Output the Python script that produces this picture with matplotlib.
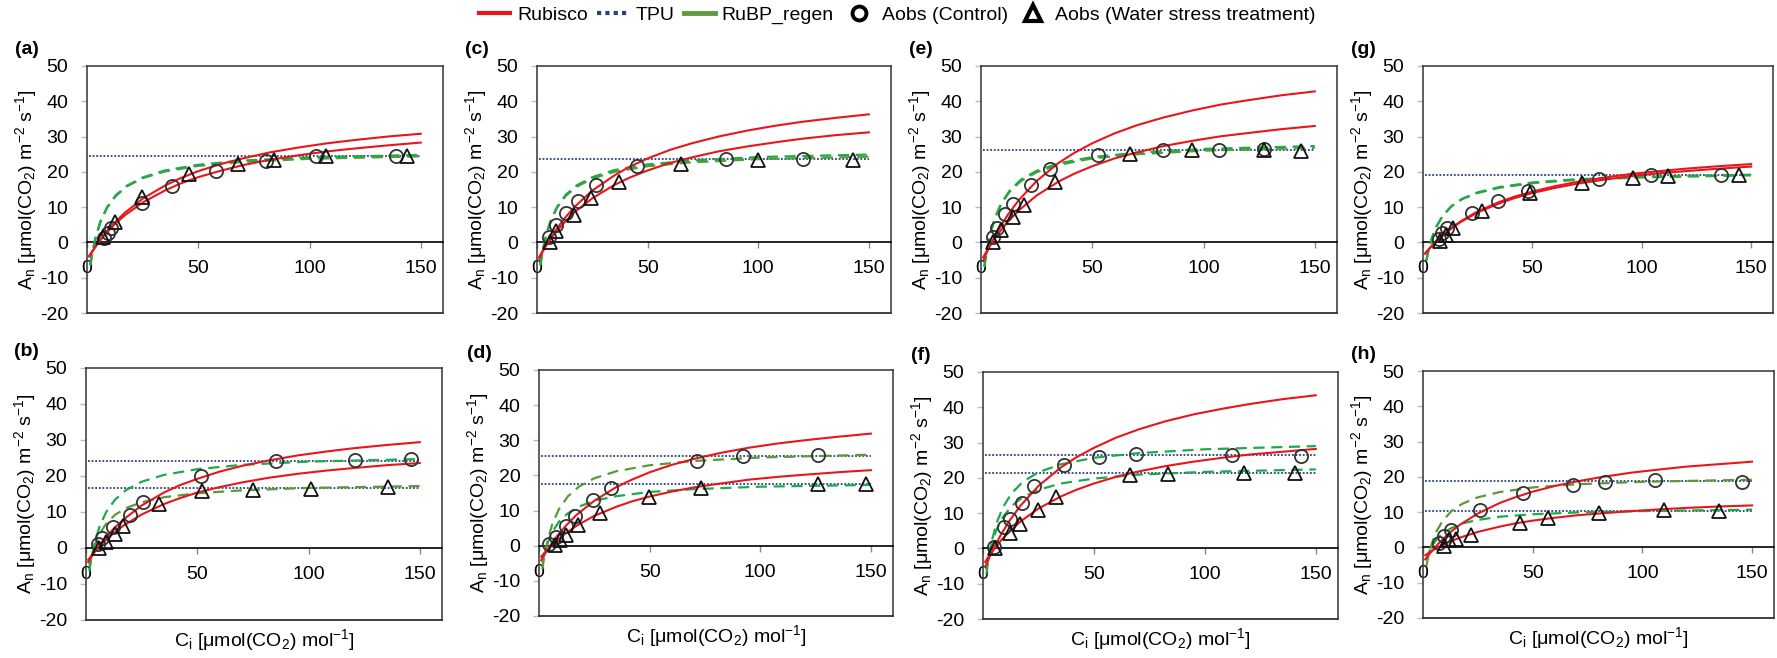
import matplotlib
matplotlib.use('Agg')
import matplotlib.pyplot as plt
from matplotlib.lines import Line2D

plt.rcParams['font.family'] = ['Liberation Sans', 'DejaVu Sans']
plt.rcParams['mathtext.fontset'] = 'custom'
plt.rcParams['mathtext.rm'] = 'Liberation Sans'
plt.rcParams['mathtext.it'] = 'Liberation Sans:italic'
plt.rcParams['axes.unicode_minus'] = False

# ---------------- data ----------------
X_MIN, X_MAX = 0, 160
Y_MIN, Y_MAX = -20, 50
X_TICKS = [0, 50, 100, 150]
Y_TICKS = [-20, -10, 0, 10, 20, 30, 40, 50]
TPU_CI = [1, 150]

RUB_CI = [1, 2, 3, 5, 8, 12, 17, 25, 35, 42, 50, 60, 70, 82, 95, 108, 120, 135, 150]
RUBP_CI = [1.5, 2.5, 4, 6, 9, 13, 18, 25, 35, 50, 70, 100, 150]

# panel (a)
a_ctrl_ci = [7.8, 9.3, 11, 24.8, 38, 57.8, 80.5, 103, 139]
a_ctrl_an = [1.2, 2.8, 4.0, 11.2, 16.1, 20.2, 23.0, 24.6, 24.6]
a_ws_ci = [7, 12.8, 24.8, 45.8, 68, 84, 107.5, 144]
a_ws_an = [1.6, 5.9, 12.8, 19.3, 22.3, 23.4, 24.6, 24.4]
a_rub1 = [-4.0, -3.0, -2.0, -0.1, 2.4, 5.4, 8.4, 12.4, 16.1, 18.2, 20.2, 22.2, 23.8, 25.5, 26.9, 28.1, 29.0, 30.0, 30.8]
a_rub2 = [-3.8, -2.8, -1.9, -0.2, 2.2, 4.9, 7.7, 11.3, 14.7, 16.7, 18.5, 20.3, 21.9, 23.4, 24.7, 25.8, 26.6, 27.5, 28.3]
a_rubp1 = [-6.5, -2.6, 1.7, 5.9, 10.0, 13.4, 16.1, 18.4, 20.4, 22.0, 23.2, 24.1, 24.8]
a_rubp2 = [-6.4, -2.6, 1.7, 5.75, 9.8, 13.2, 15.9, 18.2, 20.1, 21.7, 22.8, 23.7, 24.4]
a_tpu = [24.4]

# panel (b)
b_ctrl_ci = [5.6, 7, 12.3, 19.6, 25.4, 51.5, 85.5, 120.7, 146]
b_ctrl_an = [1.2, 2.8, 5.8, 9.3, 12.7, 20.1, 24.1, 24.4, 24.6]
b_ws_ci = [6, 9, 13.1, 16.5, 32.8, 52, 75.2, 101, 135.7]
b_ws_an = [0, 1.6, 4.0, 6.0, 12.3, 15.7, 16.2, 16.4, 16.9]
b_rub1 = [-3.9, -2.9, -1.9, -0.1, 2.3, 5.1, 8.0, 11.8, 15.4, 17.4, 19.2, 21.2, 22.8, 24.3, 25.7, 26.8, 27.7, 28.6, 29.4]
b_rub2 = [-3.3, -2.5, -1.7, -0.3, 1.7, 3.9, 6.3, 9.3, 12.2, 13.8, 15.4, 16.9, 18.2, 19.5, 20.6, 21.5, 22.2, 23.0, 23.6]
b_rubp1 = [-6.5, -2.6, 1.7, 5.8, 9.9, 13.4, 16.1, 18.4, 20.3, 21.9, 23.1, 24.0, 24.7]
b_rubp2 = [-4.9, -2.1, 0.9, 3.8, 6.7, 9.2, 11.1, 12.7, 14.1, 15.2, 16.0, 16.7, 17.2]
b_tpu = [24.3, 16.8]

# panel (c)
c_ctrl_ci = [5.5, 8.6, 13.1, 18.4, 26.7, 45.3, 85.3, 120]
c_ctrl_an = [1.5, 5.0, 8.3, 11.8, 16.2, 21.8, 23.6, 23.7]
c_ws_ci = [6, 8.6, 16.6, 24.4, 37.1, 65.2, 99.7, 143]
c_ws_an = [0, 3.1, 7.8, 12.5, 17.0, 22.3, 23.4, 23.4]
c_rub1 = [-4.6, -3.3, -2.1, 0.1, 3.0, 6.5, 10.1, 14.7, 19.0, 21.5, 23.8, 26.2, 28.1, 30.0, 31.7, 33.1, 34.2, 35.3, 36.3]
c_rub2 = [-4.1, -3.0, -2.0, -0.1, 2.5, 5.4, 8.6, 12.5, 16.3, 18.4, 20.4, 22.5, 24.1, 25.8, 27.2, 28.4, 29.4, 30.4, 31.2]
c_rubp1 = [-6.5, -2.6, 1.8, 5.9, 10.0, 13.5, 16.2, 18.5, 20.5, 22.1, 23.2, 24.2, 24.9]
c_rubp2 = [-6.4, -2.6, 1.7, 5.7, 9.8, 13.2, 15.8, 18.1, 20.0, 21.6, 22.7, 23.6, 24.3]
c_tpu = [23.6]

# panel (d)
d_ctrl_ci = [4.5, 7.9, 12.1, 16.2, 24.3, 32.5, 71.3, 92, 126]
d_ctrl_an = [0.6, 2.6, 5.7, 8.5, 13.0, 16.3, 24.2, 25.5, 25.9]
d_ws_ci = [7.1, 9.7, 12.4, 17.7, 27.6, 49.6, 73, 126, 147.7]
d_ws_an = [0.2, 1.6, 3.0, 5.9, 9.2, 14.0, 16.3, 17.7, 17.7]
d_rub1 = [-4.1, -3.0, -2.0, 0.0, 2.6, 5.6, 8.8, 12.8, 16.7, 18.8, 20.9, 23.0, 24.7, 26.4, 27.9, 29.1, 30.0, 31.0, 31.9]
d_rub2 = [-3.1, -2.4, -1.7, -0.3, 1.4, 3.5, 5.7, 8.5, 11.1, 12.6, 14.0, 15.4, 16.6, 17.7, 18.8, 19.6, 20.2, 20.9, 21.5]
d_rubp1 = [-6.7, -2.7, 1.9, 6.1, 10.4, 14.0, 16.8, 19.2, 21.2, 22.9, 24.1, 25.1, 25.9]
d_rubp2 = [-4.9, -2.1, 0.9, 3.9, 6.8, 9.2, 11.1, 12.8, 14.1, 15.3, 16.1, 16.8, 17.3]
d_tpu = [25.6, 17.6]

# panel (e)
e_ctrl_ci = [5.2, 7.3, 10.7, 14.5, 22.4, 31, 52.5, 81.6, 107, 127]
e_ctrl_an = [1.6, 4.0, 8.0, 11.0, 16.2, 20.7, 24.7, 26.2, 26.3, 26.6]
e_ws_ci = [5.5, 8.8, 14.5, 19.3, 33.4, 67, 95, 127, 144]
e_ws_an = [0.2, 3.4, 7.2, 10.6, 17.0, 25.0, 26.3, 26.3, 26.0]
e_rub1 = [-5.2, -3.7, -2.3, 0.3, 3.7, 7.8, 12.0, 17.4, 22.6, 25.4, 28.1, 30.9, 33.2, 35.4, 37.4, 39.1, 40.3, 41.7, 42.8]
e_rub2 = [-4.2, -3.1, -2.0, 0.0, 2.7, 5.8, 9.1, 13.3, 17.3, 19.5, 21.6, 23.8, 25.5, 27.3, 28.8, 30.1, 31.0, 32.1, 33.0]
e_rubp1 = [-7.0, -2.8, 2.0, 6.5, 11.0, 14.8, 17.8, 20.3, 22.4, 24.2, 25.4, 26.5, 27.3]
e_rubp2 = [-6.9, -2.7, 2.0, 6.4, 10.8, 14.5, 17.4, 19.9, 22.0, 23.8, 25.0, 26.0, 26.8]
e_tpu = [26.1]

# panel (f)
f_ctrl_ci = [4.8, 9.3, 12.3, 17.5, 23, 36.6, 52.5, 69, 112, 143.5]
f_ctrl_an = [0.3, 6.2, 8.3, 13.0, 17.6, 23.7, 25.8, 26.8, 26.6, 26.3]
f_ws_ci = [5.5, 12.3, 16.5, 24.8, 32.8, 66.3, 83.5, 117.7, 140.5]
f_ws_an = [0, 4.3, 7.0, 11.0, 14.7, 20.9, 21.2, 21.5, 21.5]
f_rub1 = [-5.2, -3.8, -2.3, 0.3, 3.8, 7.9, 12.2, 17.7, 22.9, 25.8, 28.5, 31.4, 33.7, 36.0, 38.0, 39.6, 40.9, 42.3, 43.4]
f_rub2 = [-3.8, -2.8, -1.9, -0.2, 2.2, 4.8, 7.7, 11.3, 14.7, 16.6, 18.4, 20.3, 21.8, 23.3, 24.6, 25.7, 26.6, 27.4, 28.2]
f_rubp1 = [-7.4, -2.9, 2.2, 7.0, 11.7, 15.7, 18.9, 21.6, 23.8, 25.7, 27.0, 28.1, 29.0]
f_rubp2 = [-6.0, -2.5, 1.5, 5.2, 8.9, 12.1, 14.5, 16.6, 18.4, 19.8, 20.9, 21.7, 22.4]
f_tpu = [26.5, 21.5]

# panel (g)
g_ctrl_ci = [7.3, 8.5, 11.1, 22.5, 34.4, 48, 80.4, 104, 136]
g_ctrl_an = [0.9, 2.6, 4.2, 8.3, 11.7, 14.7, 18.0, 19.0, 19.1]
g_ws_ci = [7.6, 10.3, 13.7, 26.8, 48.7, 72.5, 96, 112, 144.6]
g_ws_an = [0.5, 2.1, 4.0, 9.0, 14.1, 16.8, 18.3, 18.7, 19.0]
g_rub1 = [-3.2, -2.4, -1.7, -0.3, 1.5, 3.6, 5.9, 8.8, 11.5, 13.0, 14.4, 15.9, 17.1, 18.3, 19.4, 20.2, 20.9, 21.6, 22.2]
g_rub2 = [-3.1, -2.4, -1.7, -0.3, 1.4, 3.5, 5.7, 8.5, 11.1, 12.6, 14.0, 15.4, 16.6, 17.7, 18.8, 19.6, 20.2, 20.9, 21.5]
g_rubp1 = [-5.3, -2.3, 1.1, 4.4, 7.6, 10.3, 12.4, 14.2, 15.7, 17.0, 17.9, 18.6, 19.2]
g_rubp2 = [-5.2, -2.2, 1.1, 4.3, 7.5, 10.2, 12.3, 14.0, 15.5, 16.8, 17.7, 18.4, 19.0]
g_tpu = [19.0]

# panel (h)
h_ctrl_ci = [7.1, 9.7, 12.7, 25.8, 45.8, 68.3, 83, 105.7, 145.6]
h_ctrl_an = [1.2, 3.3, 5.0, 10.6, 15.5, 17.6, 18.6, 19.0, 18.6]
h_ws_ci = [9.4, 11.7, 15.2, 21.8, 44, 57.2, 80.4, 110, 135]
h_ws_an = [0.5, 2.0, 2.5, 3.5, 6.8, 8.2, 9.7, 10.5, 10.2]
h_rub1 = [-3.4, -2.6, -1.8, -0.3, 1.7, 4.1, 6.5, 9.6, 12.6, 14.2, 15.8, 17.4, 18.7, 20.0, 21.2, 22.1, 22.9, 23.6, 24.3]
h_rub2 = [-2.2, -1.8, -1.4, -0.6, 0.4, 1.6, 2.8, 4.4, 5.9, 6.8, 7.6, 8.4, 9.1, 9.7, 10.3, 10.8, 11.2, 11.6, 11.9]
h_rubp1 = [-5.3, -2.3, 1.1, 4.4, 7.6, 10.3, 12.4, 14.2, 15.7, 17.0, 17.9, 18.6, 19.2]
h_rubp2 = [-3.5, -1.7, 0.2, 2.1, 4.0, 5.5, 6.8, 7.8, 8.7, 9.4, 9.9, 10.3, 10.7]
h_tpu = [18.7, 10.2]

PANEL_LABELS = ['(a)', '(b)', '(c)', '(d)', '(e)', '(f)', '(g)', '(h)']
LEGEND_LABELS = ['Rubisco', 'TPU', 'RuBP_regen', 'Aobs (Control)',
                 'Aobs (Water stress treatment)']

# ---------------- style ----------------
RED = '#e8161c'
NAVY = '#27417e'
OLIVE = '#5a9a3a'
BRIGHT = '#1eaa4c'
LEG_GREEN = '#5f9a3e'

# axes boxes in pixels: left, top, right, bottom
BOXES = {
    '(a)': (87, 66, 443, 313), '(c)': (537, 66, 891, 313),
    '(e)': (981, 66, 1337, 313), '(g)': (1423, 66, 1773, 313),
    '(b)': (86, 368, 442, 620), '(d)': (539, 370, 893, 616),
    '(f)': (983, 372, 1338, 619), '(h)': (1423, 371, 1774, 618),
}
GREEN_COLORS = {
    '(a)': (BRIGHT, OLIVE), '(c)': (BRIGHT, OLIVE), '(e)': (BRIGHT, OLIVE),
    '(g)': (BRIGHT, OLIVE), '(b)': (BRIGHT, OLIVE), '(d)': (OLIVE, BRIGHT),
    '(f)': (BRIGHT, BRIGHT), '(h)': (OLIVE, BRIGHT),
}

PANELS = {
    '(a)': (a_ctrl_ci, a_ctrl_an, a_ws_ci, a_ws_an, a_rub1, a_rub2, a_rubp1, a_rubp2, a_tpu),
    '(b)': (b_ctrl_ci, b_ctrl_an, b_ws_ci, b_ws_an, b_rub1, b_rub2, b_rubp1, b_rubp2, b_tpu),
    '(c)': (c_ctrl_ci, c_ctrl_an, c_ws_ci, c_ws_an, c_rub1, c_rub2, c_rubp1, c_rubp2, c_tpu),
    '(d)': (d_ctrl_ci, d_ctrl_an, d_ws_ci, d_ws_an, d_rub1, d_rub2, d_rubp1, d_rubp2, d_tpu),
    '(e)': (e_ctrl_ci, e_ctrl_an, e_ws_ci, e_ws_an, e_rub1, e_rub2, e_rubp1, e_rubp2, e_tpu),
    '(f)': (f_ctrl_ci, f_ctrl_an, f_ws_ci, f_ws_an, f_rub1, f_rub2, f_rubp1, f_rubp2, f_tpu),
    '(g)': (g_ctrl_ci, g_ctrl_an, g_ws_ci, g_ws_an, g_rub1, g_rub2, g_rubp1, g_rubp2, g_tpu),
    '(h)': (h_ctrl_ci, h_ctrl_an, h_ws_ci, h_ws_an, h_rub1, h_rub2, h_rubp1, h_rubp2, h_tpu),
}

W, H = 1777, 658
fig = plt.figure(figsize=(W / 100, H / 100), dpi=100)

YLABEL = r'A$_\mathregular{n}$ [μmol(CO$_\mathregular{2}$) m$^\mathregular{-2}$ s$^\mathregular{-1}$]'
XLABEL = r'C$_\mathregular{i}$ [μmol(CO$_\mathregular{2}$) mol$^\mathregular{-1}$]'
FS = 14

for lab in PANEL_LABELS:
    l, t, r, b = BOXES[lab]
    ax = fig.add_axes([l / W, 1 - b / H, (r - l) / W, (b - t) / H])
    ctrl_ci, ctrl_an, ws_ci, ws_an, rub1, rub2, rubp1, rubp2, tpu = PANELS[lab]
    ax.set_xlim(X_MIN, X_MAX)
    ax.set_ylim(Y_MIN, Y_MAX)

    for tv in tpu:
        ax.hlines(tv, TPU_CI[0], TPU_CI[1], colors=NAVY, linestyles=(0, (1, 1)), lw=1.3, zorder=2)
    gc1, gc2 = GREEN_COLORS[lab]
    ax.plot(RUBP_CI, rubp2, color=gc2, ls=(0, (5, 3)), lw=1.6, zorder=3)
    ax.plot(RUBP_CI, rubp1, color=gc1, ls=(0, (5, 3)), lw=1.6, zorder=3)
    ax.plot(RUB_CI, rub1, color=RED, lw=1.5, zorder=4)
    ax.plot(RUB_CI, rub2, color=RED, lw=1.5, zorder=4)
    ax.plot(ctrl_ci, ctrl_an, 'o', mfc='none', mec='#333333', ms=9.5, mew=1.3, zorder=5)
    ax.plot(ws_ci, ws_an, '^', mfc='none', mec='#111111', ms=10, mew=1.3, zorder=5)

    # spines
    for s in ['left', 'right', 'top']:
        ax.spines[s].set_color('#333333')
        ax.spines[s].set_linewidth(1.1)
    ax.spines['bottom'].set_position(('data', 0))
    ax.spines['bottom'].set_color('black')
    ax.spines['bottom'].set_linewidth(1.2)
    ax.axhline(Y_MIN, color='#333333', lw=1.3, clip_on=False, zorder=6)

    ax.set_xticks(X_TICKS)
    ax.set_yticks(Y_TICKS)
    ax.tick_params(axis='x', direction='out', length=4, width=1, color='#888888',
                   pad=9, labelsize=FS)
    ax.tick_params(axis='y', direction='out', length=4.5, width=1, color='#bbbbbb',
                   pad=9, labelsize=FS)

    ax.set_ylabel(YLABEL, fontsize=FS)
    ax.yaxis.label.set_va('center')
    ax.yaxis.set_label_coords(-61 / (r - l), 0.5)
    if lab in ('(b)', '(d)', '(f)', '(h)'):
        ax.set_xlabel(XLABEL, fontsize=FS)
        ax.xaxis.label.set_va('center')
        ax.xaxis.set_label_coords(0.5, -20 / (b - t))

    fig.text((l - 72) / W, 1 - (t - 17) / H, lab, fontsize=FS, fontweight='bold',
             ha='left', va='center')

handles = [
    Line2D([], [], color=RED, lw=3),
    Line2D([], [], color=NAVY, lw=3, ls=(0, (1, 1))),
    Line2D([], [], color=LEG_GREEN, lw=3.5),
    Line2D([], [], marker='o', ls='none', mfc='white', mec='black', mew=2.8, ms=10),
    Line2D([], [], marker='^', ls='none', mfc='white', mec='black', mew=3, ms=11),
]
fig.legend(handles, LEGEND_LABELS, loc='center', bbox_to_anchor=(0.505, 1 - 15 / H),
           ncol=5, frameon=False, fontsize=FS, handlelength=1.6, handletextpad=0.35,
           columnspacing=0.5, borderaxespad=0)

fig.savefig('out.png', dpi=100)
